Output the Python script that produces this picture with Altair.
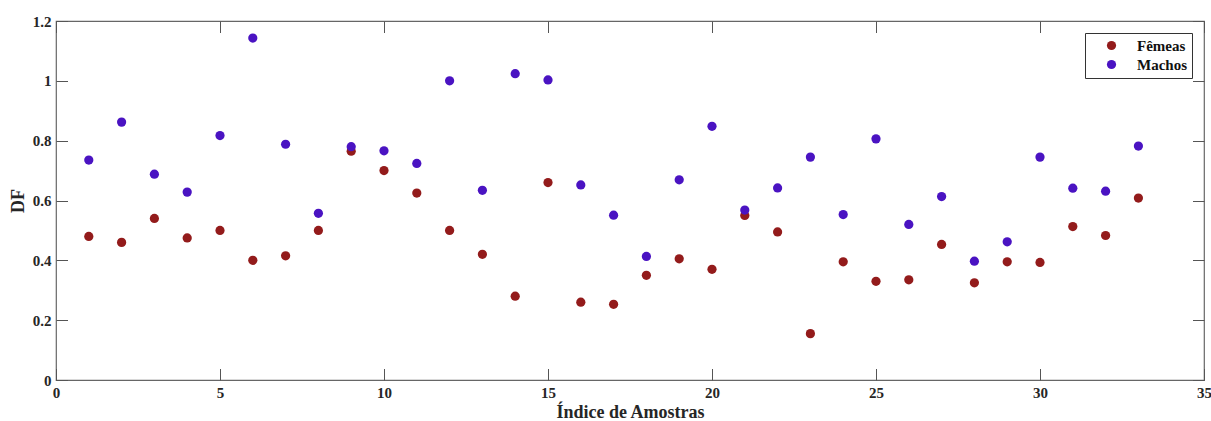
import altair as alt
import pandas as pd

indices = list(range(1, 34))
femeas = [0.48, 0.46, 0.54, 0.475, 0.50, 0.40, 0.415, 0.50, 0.765, 0.70,
          0.625, 0.50, 0.42, 0.28, 0.66, 0.26, 0.253, 0.35, 0.405, 0.37,
          0.55, 0.495, 0.155, 0.395, 0.33, 0.335, 0.453, 0.325, 0.395, 0.393,
          0.513, 0.483, 0.608]
machos = [0.735, 0.862, 0.688, 0.628, 0.817, 1.143, 0.788, 0.557, 0.78, 0.766,
          0.724, 1.0, 0.634, 1.024, 1.003, 0.652, 0.551, 0.413, 0.669, 0.848,
          0.568, 0.642, 0.745, 0.553, 0.806, 0.52, 0.613, 0.397, 0.462, 0.745,
          0.641, 0.631, 0.782]
series = ["Fêmeas", "Machos"]
colors = ["#931b1b", "#4a13c2"]
x_ticks = [0, 5, 10, 15, 20, 25, 30, 35]
y_ticks = [0, 0.2, 0.4, 0.6, 0.8, 1.0, 1.2]

rows = []
for i, f, m in zip(indices, femeas, machos):
    rows.append({"idx": i, "df": f, "serie": series[0]})
    rows.append({"idx": i, "df": m, "serie": series[1]})
df = pd.DataFrame(rows)

FONT = "Liberation Serif"
TICK = 11.5
xscale = alt.Scale(domain=[0, 35], nice=False, zero=False)
yscale = alt.Scale(domain=[0, 1.2], nice=False, zero=False)

axis_common = dict(grid=False, domain=False, tickSize=TICK, offset=-TICK,
                   tickColor="#555555", tickWidth=1)

x_bottom = alt.Axis(values=x_ticks, orient="bottom", labelPadding=5,
                    labelFont=FONT, labelFontSize=15, labelFontWeight="bold",
                    labelColor="#262626", title="Índice de Amostras",
                    titleFont=FONT, titleFontSize=18, titleFontWeight="bold",
                    titleColor="#262626", titlePadding=3, labelFlush=False,
                    **axis_common)
y_left = alt.Axis(values=y_ticks, orient="left", labelPadding=5, format=".1~f",
                  labelFont=FONT, labelFontSize=15, labelFontWeight="bold",
                  labelColor="#262626", title="DF",
                  titleFont=FONT, titleFontSize=18, titleFontWeight="bold",
                  titleColor="#262626", titlePadding=5, labelFlush=False,
                  **axis_common)
x_top = alt.Axis(values=x_ticks, orient="top", labels=False, title=None, **axis_common)
y_right = alt.Axis(values=y_ticks, orient="right", labels=False, title=None, **axis_common)

points = alt.Chart(df).mark_circle(size=85, opacity=1).encode(
    x=alt.X("idx:Q", scale=xscale, axis=x_bottom),
    y=alt.Y("df:Q", scale=yscale, axis=y_left),
    color=alt.Color("serie:N", scale=alt.Scale(domain=series, range=colors),
                    legend=alt.Legend(title=None, orient="none", legendX=1029, legendY=12,
                                      strokeColor="#333333", fillColor="white",
                                      padding=5, symbolType="circle", symbolSize=85,
                                      symbolStrokeWidth=0, symbolOffset=14,
                                      labelOffset=18, rowPadding=3,
                                      labelFont=FONT, labelFontSize=15,
                                      labelFontWeight="bold", labelColor="#111111")),
)

mirror = alt.Chart(df).mark_circle(opacity=0).encode(
    x=alt.X("idx:Q", scale=xscale, axis=x_top),
    y=alt.Y("df:Q", scale=yscale, axis=y_right),
)

chart = alt.layer(points, mirror).resolve_axis(
    x="independent", y="independent"
).properties(
    width=1148, height=359,
    autosize=alt.AutoSizeParams(type="none"),
    padding={"left": 56, "top": 21, "right": 7, "bottom": 41},
    background="white",
).configure_view(stroke="#666666", strokeWidth=1.2)

chart.save("out.html", embed_options={"renderer": "svg", "actions": False})
